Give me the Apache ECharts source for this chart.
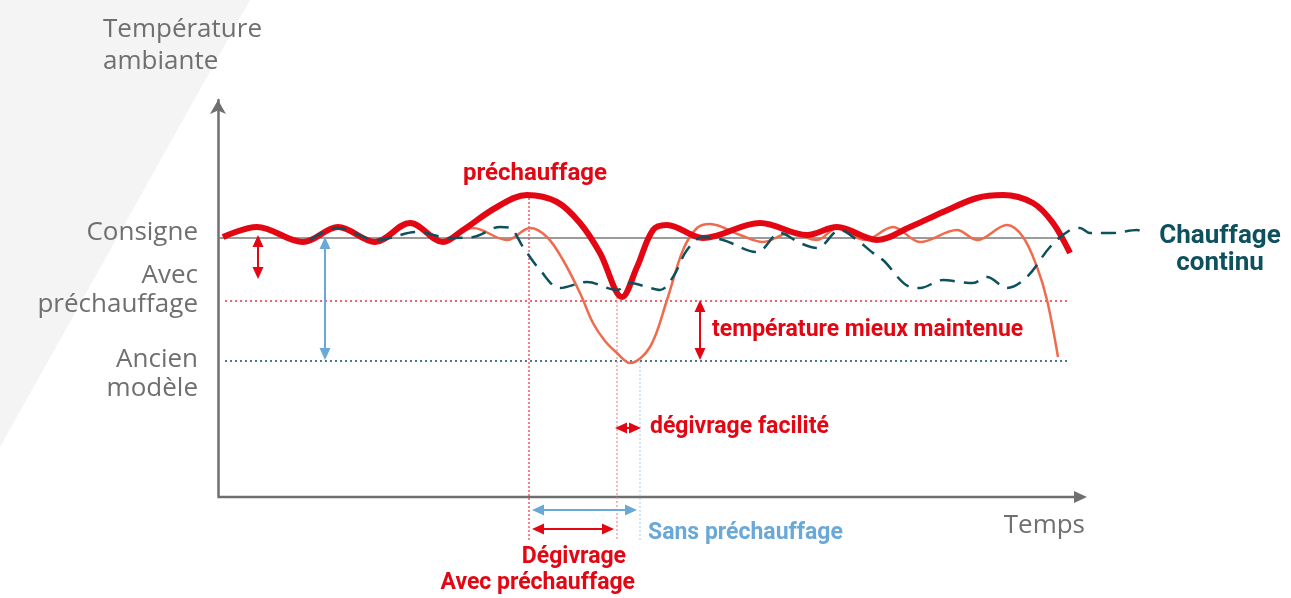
<!DOCTYPE html>
<html lang="fr">
<head>
<meta charset="utf-8">
<title>Préchauffage et dégivrage</title>
<script src="https://cdn.jsdelivr.net/npm/echarts@6/dist/echarts.min.js"></script>
<style>
  html, body { margin: 0; padding: 0; background: #fff; }
  #chart { width: 1291px; height: 598px; }
</style>
</head>
<body>
<div id="chart"></div>
<script>
// unités arbitraires : temps à partir de l'origine, température au-dessus de l'axe
const avecT = [5, 39, 85, 120, 157, 192, 225, 245, 279, 309, 339, 362, 382, 404, 419, 435, 449, 485, 542, 589, 619, 659, 692, 725, 759, 785, 815, 835, 852];
const avecTemp = [260, 270, 255, 270, 255, 274, 255, 267, 290, 302, 295, 274, 244, 200, 230, 267, 272, 259, 274, 262, 270, 257, 270, 285, 299, 302, 294, 274, 244];

const ancienT = [5, 39, 85, 120, 157, 192, 225, 255, 289, 312, 329, 345, 362, 375, 387, 399, 412, 432, 449, 465, 479, 492, 522, 545, 572, 599, 619, 647, 675, 702, 739, 759, 789, 805, 819, 829, 840];
const ancienTemp = [260, 270, 255, 270, 255, 274, 255, 269, 257, 269, 260, 237, 204, 174, 156, 144, 134, 150, 197, 247, 269, 273, 262, 255, 264, 257, 269, 257, 270, 255, 267, 257, 272, 260, 230, 197, 140];

const continuT = [92, 119, 159, 199, 232, 255, 282, 292, 305, 322, 342, 369, 399, 412, 429, 442, 455, 469, 485, 505, 539, 562, 582, 599, 622, 639, 655, 665, 692, 702, 725, 742, 755, 769, 789, 809, 832, 852, 862, 872, 895, 919, 927];
const continuTemp = [257, 269, 257, 265, 259, 260, 270, 269, 250, 227, 209, 215, 207, 214, 210, 207, 220, 247, 260, 257, 245, 264, 254, 249, 267, 257, 244, 237, 210, 209, 217, 215, 214, 220, 209, 220, 250, 267, 269, 264, 264, 267, 264];

// niveaux repères
const levelNames = ['Consigne', 'Avec préchauffage', 'Ancien modèle'];
const levelValues = [259, 196, 136];
const levelStart = [0, 7, 7];
const levelEnd = [845, 849, 849];

// libellés de l'axe vertical
const yLabelValues = [264, 207, 123];
const yLabelTexts = ['Consigne', 'Avec\npréchauffage', 'Ancien\nmodèle'];

// instants : début du dégivrage, fin avec préchauffage, fin sans préchauffage
const eventT = [311, 399, 422];
const eventTop = [299, 200, 135];
const eventBottom = -43;

// flèches doubles
const arrowX1 = [40, 107, 482, 397, 314, 314];
const arrowY1 = [262, 260, 197, 69, -13, -32];
const arrowX2 = [40, 107, 482, 423, 419, 396];
const arrowY2 = [218, 137, 137, 69, -13, -32];

// fin de l'axe du temps
const timeAxisEnd = 869;

// annotations
const noteTexts = ['préchauffage', 'Chauffage\ncontinu', 'température mieux maintenue', 'dégivrage facilité', 'Sans préchauffage', 'Dégivrage', 'Avec préchauffage', 'Temps'];
const noteT = [317, 1002, 494, 432, 430, 408, 417, 867];
const noteTemp = [323, 247, 167, 70, -36, -60, -86, -29];

const RED = '#e30613';
const ORANGE = '#f06b4d';
const TEAL = '#0d505e';
const BLUE = '#6aa8d8';
const GRAY = '#6f6f6f';
const SMOOTH = 0.35;

const zip = (xs, ys) => xs.map((x, i) => [x, ys[i]]);

// guides : axe du temps, lignes de niveau, verticales pointillées, flèches
const guideData = [[0, 0, timeAxisEnd, 0]];
const guideStyle = [{ stroke: GRAY, lineWidth: 2.5, arrow: 'end', headL: 13, headW: 6 }];
levelValues.forEach((v, i) => {
  guideData.push([levelStart[i], v, levelEnd[i], v]);
  guideStyle.push([
    { stroke: '#7a7a7a', lineWidth: 1.5 },
    { stroke: '#e8363f', lineWidth: 1.5, lineDash: [2, 3] },
    { stroke: TEAL, lineWidth: 1.5, lineDash: [2, 3] }
  ][i]);
});
eventT.forEach((t, i) => {
  guideData.push([t, eventTop[i], t, eventBottom]);
  guideStyle.push([
    { stroke: '#e8363f', lineWidth: 1.2, lineDash: [2, 2] },
    { stroke: '#f08a90', lineWidth: 1.2, lineDash: [2, 2] },
    { stroke: '#b5d3ee', lineWidth: 1.2, lineDash: [2, 2] }
  ][i]);
});
const arrowColors = [RED, BLUE, RED, RED, BLUE, RED];
arrowX1.forEach((x, i) => {
  guideData.push([x, arrowY1[i], arrowX2[i], arrowY2[i]]);
  guideStyle.push({ stroke: arrowColors[i], lineWidth: 2, arrow: 'both', headL: 12, headW: 5.5 });
});

function head(tip, from, color, L, W) {
  const dx = tip[0] - from[0], dy = tip[1] - from[1];
  const len = Math.hypot(dx, dy) || 1;
  const ux = dx / len, uy = dy / len;
  const bx = tip[0] - ux * L, by = tip[1] - uy * L;
  return {
    type: 'polygon',
    shape: { points: [tip, [bx - uy * W, by + ux * W], [bx + uy * W, by - ux * W]] },
    style: { fill: color }
  };
}

function renderGuide(params, api) {
  const a = api.coord([api.value(0), api.value(1)]);
  const b = api.coord([api.value(2), api.value(3)]);
  const s = guideStyle[params.dataIndex];
  if (!s.arrow) {
    return {
      type: 'line',
      shape: { x1: a[0], y1: a[1], x2: b[0], y2: b[1] },
      style: { stroke: s.stroke, lineWidth: s.lineWidth, lineDash: s.lineDash || null }
    };
  }
  const dx = b[0] - a[0], dy = b[1] - a[1];
  const len = Math.hypot(dx, dy) || 1;
  const ux = dx / len, uy = dy / len;
  const cut = s.headL - 2;
  const startCut = s.arrow === 'both' ? cut : 0;
  const children = [{
    type: 'line',
    shape: { x1: a[0] + ux * startCut, y1: a[1] + uy * startCut, x2: b[0] - ux * cut, y2: b[1] - uy * cut },
    style: { stroke: s.stroke, lineWidth: s.lineWidth }
  }, head(b, a, s.stroke, s.headL, s.headW)];
  if (s.arrow === 'both') children.push(head(a, b, s.stroke, s.headL, s.headW));
  return { type: 'group', children };
}

const noteStyles = [
  { color: RED, fontSize: 24, align: 'center' },
  { color: TEAL, fontSize: 26, align: 'center', lineHeight: 27 },
  { color: RED, fontSize: 23, align: 'left' },
  { color: RED, fontSize: 23, align: 'left' },
  { color: BLUE, fontSize: 23, align: 'left' },
  { color: RED, fontSize: 23, align: 'right' },
  { color: RED, fontSize: 23, align: 'right' },
  { color: GRAY, fontSize: 26, align: 'right', fontFamily: 'Open Sans', fontWeight: 'normal' }
];

const chart = echarts.init(document.getElementById('chart'));

const option = {
  animation: false,
  backgroundColor: '#ffffff',
  graphic: [{
    type: 'polygon',
    z: -10,
    silent: true,
    shape: { points: [[0, 0], [250, 0], [0, 447]] },
    style: { fill: '#f4f4f4' }
  }],
  title: {
    text: 'Température\nambiante',
    left: 98,
    top: 9,
    textStyle: { fontFamily: 'Open Sans', fontSize: 26, fontWeight: 'normal', color: GRAY, lineHeight: 32 }
  },
  grid: { left: 218, right: 143, top: 100, bottom: 101 },
  xAxis: {
    type: 'value',
    min: 0,
    max: 930,
    axisLine: { show: false },
    axisTick: { show: false },
    axisLabel: { show: false },
    splitLine: { show: false }
  },
  yAxis: {
    type: 'value',
    min: 0,
    max: 397,
    axisLine: {
      onZero: false,
      symbol: ['none', 'arrow'],
      symbolSize: [12, 14],
      lineStyle: { color: GRAY, width: 2.5 }
    },
    axisTick: { show: false },
    splitLine: { show: false },
    axisLabel: {
      customValues: yLabelValues,
      formatter: (v) => yLabelTexts[yLabelValues.indexOf(v)] || '',
      margin: 20,
      fontFamily: 'Open Sans',
      fontSize: 26,
      lineHeight: 29,
      color: GRAY
    }
  },
  series: [
    {
      name: 'guides',
      type: 'custom',
      renderItem: renderGuide,
      data: guideData,
      encode: { x: [0, 2], y: [1, 3] },
      clip: false,
      silent: true,
      z: 1
    },
    {
      name: 'Ancien modèle',
      type: 'line',
      data: zip(ancienT, ancienTemp),
      smooth: SMOOTH,
      showSymbol: false,
      clip: false,
      lineStyle: { color: ORANGE, width: 2.5 },
      z: 2
    },
    {
      name: 'Avec préchauffage',
      type: 'line',
      data: zip(avecT, avecTemp),
      smooth: SMOOTH,
      showSymbol: false,
      clip: false,
      lineStyle: { color: RED, width: 6 },
      z: 3
    },
    {
      name: 'Chauffage continu',
      type: 'line',
      data: zip(continuT, continuTemp),
      smooth: SMOOTH,
      showSymbol: false,
      clip: false,
      lineStyle: { color: TEAL, width: 2.5, type: [15, 9] },
      z: 4
    },
    {
      name: 'notes',
      type: 'scatter',
      symbolSize: 0,
      clip: false,
      silent: true,
      itemStyle: { opacity: 1 },
      z: 6,
      data: noteTexts.map((txt, i) => ({
        value: [noteT[i], noteTemp[i]],
        label: {
          show: true,
          position: [0, 0],
          formatter: txt,
          fontFamily: 'Roboto',
          fontWeight: 'bold',
          verticalAlign: 'middle',
          ...noteStyles[i]
        }
      }))
    }
  ]
};

chart.setOption(option);
</script>
</body>
</html>
